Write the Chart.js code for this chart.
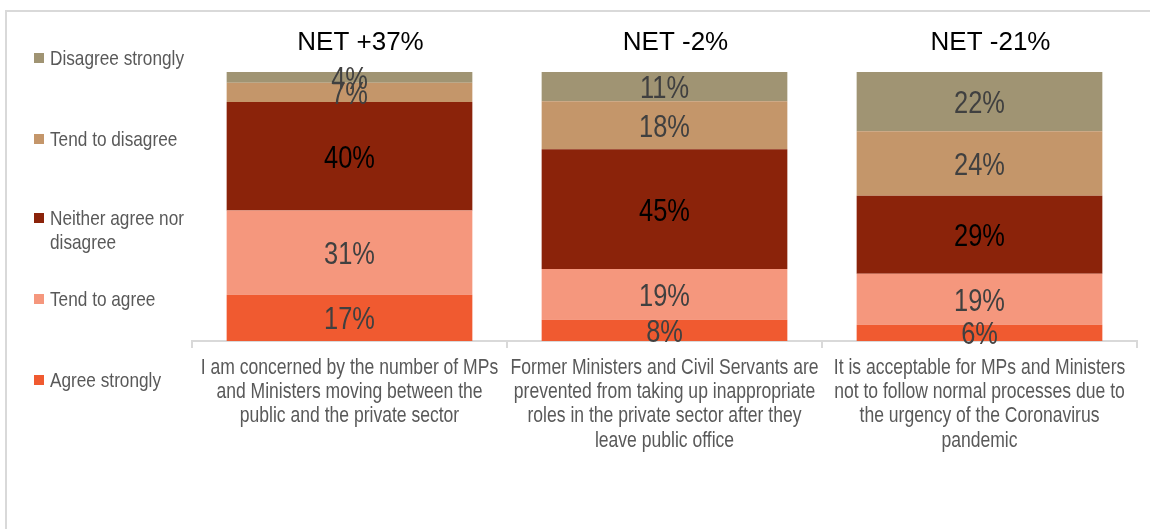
<!DOCTYPE html>
<html>
<head>
<meta charset="utf-8">
<script src="https://cdn.jsdelivr.net/npm/chart.js@4"></script>
<style>
  html, body { margin: 0; padding: 0; background: #fff; }
  #wrap { position: relative; width: 1150px; height: 529px; }
</style>
</head>
<body>
<div id="wrap"><canvas id="chart" width="1150" height="529"></canvas></div>
<script>
const categories = [
  ["I am concerned by the number of MPs", "and Ministers moving between the", "public and the private sector"],
  ["Former Ministers and Civil Servants are", "prevented from taking up inappropriate", "roles in the private sector after they", "leave public office"],
  ["It is acceptable for MPs and Ministers", "not to follow normal processes due to", "the urgency of the Coronavirus", "pandemic"],
];

const seriesNames = ["Agree strongly", "Tend to agree", "Neither agree nor disagree", "Tend to disagree", "Disagree strongly"];
const agreeStrongly = [17, 8, 6];
const tendToAgree = [31, 19, 19];
const neither = [40, 45, 29];
const tendToDisagree = [7, 18, 24];
const disagreeStrongly = [4, 11, 22];

const seriesColors = ["#F05A30", "#F5977D", "#8B230A", "#C4966A", "#A09473"];
const labelColors = ["#404040", "#404040", "#000000", "#404040", "#404040"];

const FONT = "'Liberation Sans', Arial, sans-serif";
const NARROW_SCALE = 0.82; // Arial Narrow is roughly Arial squeezed to 82%

const rawSeries = [agreeStrongly, tendToAgree, neither, tendToDisagree, disagreeStrongly];

// 100% stacked: each bar is scaled to its own total
const totals = categories.map((c, i) => rawSeries.reduce((s, arr) => s + arr[i], 0));

const datasets = rawSeries.map((arr, k) => ({
  label: seriesNames[k],
  raw: arr,
  data: arr.map((v, i) => (v / totals[i]) * 100),
  backgroundColor: seriesColors[k],
  borderWidth: 0,
  barPercentage: 0.78,
  categoryPercentage: 1,
}));

// NET = agree - disagree
const netValues = categories.map((c, i) =>
  agreeStrongly[i] + tendToAgree[i] - tendToDisagree[i] - disagreeStrongly[i]
);

function narrowText(ctx, text, x, y) {
  ctx.save();
  ctx.translate(x, y);
  ctx.scale(NARROW_SCALE, 1);
  ctx.fillText(text, 0, 0);
  ctx.restore();
}

function wrapWords(ctx, text, maxWidth) {
  const words = text.split(" ");
  const lines = [];
  let line = "";
  words.forEach((w) => {
    const test = line ? line + " " + w : w;
    if (ctx.measureText(test).width * NARROW_SCALE > maxWidth && line) {
      lines.push(line);
      line = w;
    } else {
      line = test;
    }
  });
  if (line) lines.push(line);
  return lines;
}

const framePlugin = {
  id: "frame",
  beforeDraw(chart) {
    const ctx = chart.ctx;
    ctx.save();
    ctx.fillStyle = "#d9d9d9";
    ctx.fillRect(5, 10, chart.width - 5, 2);
    ctx.fillRect(5, 10, 2, chart.height - 10);
    ctx.restore();
  },
};

const segmentLabels = {
  id: "segmentLabels",
  afterDatasetsDraw(chart) {
    const ctx = chart.ctx;
    ctx.save();
    ctx.font = "31px " + FONT;
    ctx.textAlign = "center";
    ctx.textBaseline = "middle";
    chart.data.datasets.forEach((ds, k) => {
      const meta = chart.getDatasetMeta(k);
      meta.data.forEach((bar, i) => {
        const mid = (bar.y + bar.base) / 2;
        ctx.fillStyle = labelColors[k];
        narrowText(ctx, ds.raw[i] + "%", bar.x, mid + 3);
      });
    });

    // NET headline above each bar
    ctx.font = "26px " + FONT;
    ctx.fillStyle = "#000000";
    const top = chart.getDatasetMeta(chart.data.datasets.length - 1);
    top.data.forEach((bar, i) => {
      const v = netValues[i];
      const txt = "NET " + (v > 0 ? "+" : "") + v + "%";
      ctx.fillText(txt, bar.x + 11, 43);
    });
    ctx.restore();
  },
};

// category text under the axis, drawn narrow
const categoryLabels = {
  id: "categoryLabels",
  afterDraw(chart) {
    const ctx = chart.ctx;
    const xs = chart.scales.x;
    ctx.save();
    ctx.font = "21.4px " + FONT;
    ctx.fillStyle = "#595959";
    ctx.textAlign = "center";
    ctx.textBaseline = "middle";
    chart.data.labels.forEach((lines, i) => {
      const x = xs.getPixelForTick(i);
      lines.forEach((ln, j) => narrowText(ctx, ln, x, chart.chartArea.bottom + 27 + j * 24.3));
    });
    ctx.restore();
  },
};

const sideLegend = {
  id: "sideLegend",
  afterDraw(chart) {
    const ctx = chart.ctx;
    const rows = [58, 139, 218, 299, 380];
    ctx.save();
    ctx.font = "21px " + FONT;
    ctx.textBaseline = "middle";
    ctx.textAlign = "left";
    const order = chart.data.datasets.slice().reverse();
    order.forEach((ds, r) => {
      const y = rows[r];
      ctx.fillStyle = ds.backgroundColor;
      ctx.fillRect(34, y - 5, 10, 10);
      ctx.fillStyle = "#595959";
      const lines = wrapWords(ctx, ds.label, 145);
      lines.forEach((ln, j) => narrowText(ctx, ln, 50, y + 1 + j * 24));
    });
    ctx.restore();
  },
};

new Chart(document.getElementById("chart"), {
  type: "bar",
  data: { labels: categories, datasets },
  options: {
    responsive: false,
    animation: false,
    layout: { padding: { left: 192, right: 13, top: 72, bottom: 0 } },
    plugins: {
      legend: { display: false },
      tooltip: { enabled: false },
    },
    scales: {
      x: {
        stacked: true,
        afterFit(scale) {
          scale.height = 188;
          scale.paddingLeft = 0;
          scale.paddingRight = 0;
        },
        border: { display: true, color: "#d9d9d9", width: 2 },
        grid: {
          display: true,
          offset: true,
          drawOnChartArea: false,
          drawTicks: true,
          tickLength: 7,
          color: "#d9d9d9",
          lineWidth: 2,
        },
        ticks: {
          autoSkip: false,
          maxRotation: 0,
          minRotation: 0,
          color: "rgba(0,0,0,0)",
          font: { family: FONT, size: 12 },
        },
      },
      y: {
        stacked: true,
        display: false,
        min: 0,
        max: 100,
      },
    },
  },
  plugins: [framePlugin, segmentLabels, categoryLabels, sideLegend],
});
</script>
</body>
</html>
